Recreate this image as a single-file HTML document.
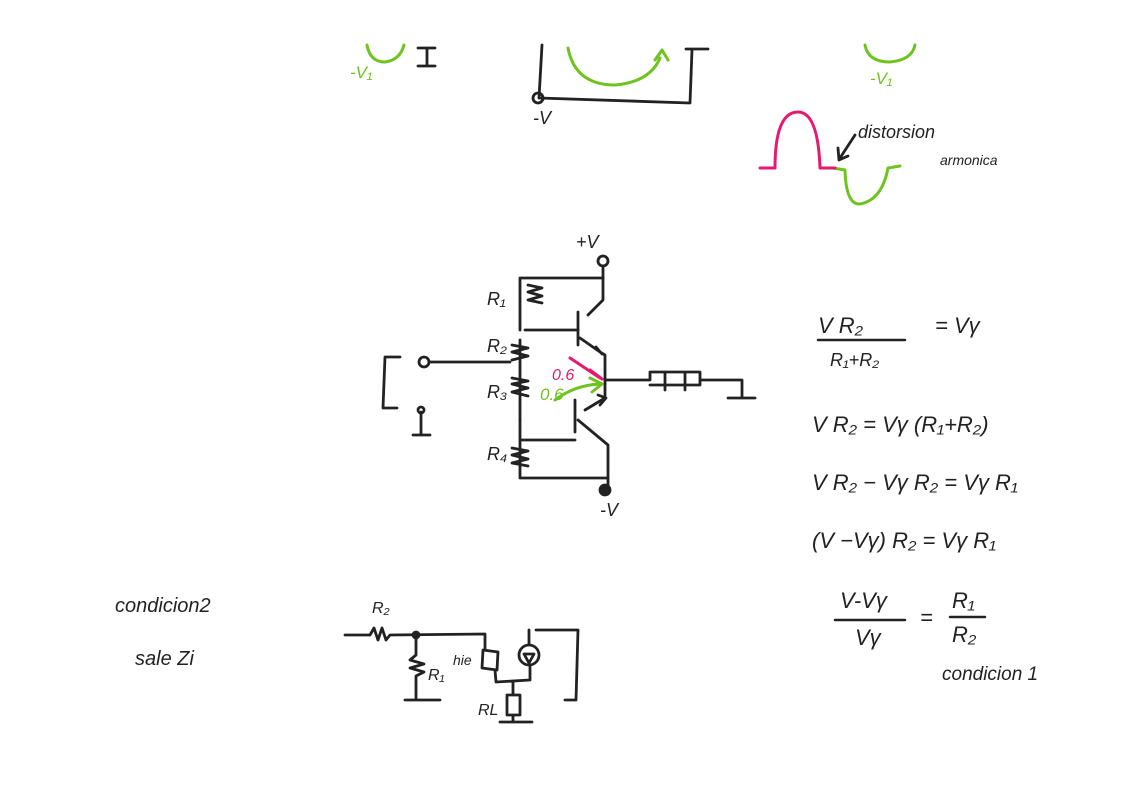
<!DOCTYPE html>
<html><head><meta charset="utf-8"><style>
html,body{margin:0;padding:0;background:#fff;width:1123px;height:793px;overflow:hidden}
svg{display:block}
text{font-family:"Liberation Sans",sans-serif;font-style:italic}
</style></head><body>
<svg width="1123" height="793" viewBox="0 0 1123 793" fill="none" stroke-linecap="round" stroke-linejoin="round">
<g stroke="#6fc31f" stroke-width="3">
<path d="M367 45 Q370 62 385 62 Q400 60 404 45"/>
<path d="M568 48 Q575 85 615 85 Q650 82 660 58 M655 60 L662 50 L668 60"/>
<path d="M865 45 Q868 62 890 62 Q912 60 915 45"/>
<path d="M833 168 L845 170 Q846 205 860 204 Q882 200 888 168 L900 166"/>
<path d="M555 400 Q575 385 600 384 M590 378 L602 384 L592 392"/>
</g>
<g fill="#6fc31f" font-size="17">
<text x="350" y="78">-V₁</text>
<text x="870" y="84">-V₁</text>
<text x="540" y="400">0.6</text>
</g>
<g stroke="#e5196e" stroke-width="3">
<path d="M760 168 L775 168 Q775 112 798 112 Q818 112 820 168 L835 168"/>
<path d="M570 358 L600 378 M590 370 L602 379"/>
</g>
<text x="552" y="380" fill="#e5196e" font-size="16">0.6</text>
<g stroke="#222" stroke-width="2.8">
<path d="M418 48 L435 48 M427 48 L427 66 M418 66 L435 66"/>
<path d="M542 45 L539 98 L690 103 L692 50 M686 49 L708 49"/>
<circle cx="538" cy="98" r="5"/>
<path d="M855 135 L840 158 M838 148 L839 160 L848 156"/>
<circle cx="603" cy="261" r="5"/>
<path d="M603 266 L603 300 L588 315 M578 312 L578 345 M580 338 L600 352 L605 355 L605 380 M596 347 L602 354"/>
<path d="M520 278 L603 278 M520 278 L520 330 M525 330 L578 330"/>
<path d="M528 285 L542 288 L528 292 L542 296 L528 300 L542 303"/>
<path d="M430 362 L510 362 M520 340 L520 420 M512 345 L528 348 L512 352 L528 356 L512 360 M512 378 L528 381 L512 384 L528 388 L512 392 L528 396"/>
<circle cx="424" cy="362" r="5"/>
<path d="M400 357 L385 357 L383 408 L397 408"/>
<circle cx="421" cy="410" r="3"/>
<path d="M421 412 L421 435 M413 435 L430 435"/>
<path d="M605 380 L650 380 L650 372 L700 372 L700 385 L650 385 M700 380 L742 380 L742 398 M728 398 L755 398 M665 372 L665 390 M685 372 L685 390"/>
<path d="M605 380 L605 398 L585 410 M575 400 L575 432 M578 420 L608 445 L608 488 M598 395 L606 398 L600 405"/>
<path d="M520 420 L520 440 L575 440 M520 440 L520 478 L608 478 M512 448 L528 451 L512 455 L528 459 L512 463 L528 466"/>
<circle cx="605" cy="490" r="5" fill="#222"/>
<path d="M345 635 L370 635 L374 628 L378 640 L382 628 L386 640 L390 635 L485 634 L485 650 M416 635 L416 655 L410 660 L424 664 L410 668 L424 672 L416 676 L416 700 M405 700 L440 700"/>
<circle cx="416" cy="635" r="3" fill="#222"/>
<path d="M483 650 L498 652 L497 670 L482 668 Z M495 670 L496 682 L530 680 L530 665 M513 682 L513 695 L507 695 L507 715 L520 715 L520 695 L513 695 M513 715 L513 722 M500 722 L532 722"/>
<circle cx="529" cy="655" r="10"/>
<path d="M529 645 L529 630 M524 654 L534 654 L529 663 Z M536 630 L578 630 L576 700 L565 700"/>
</g>
<g fill="#222" font-size="18">
<text x="533" y="124">-V</text>
<text x="858" y="138">distorsion</text>
<text x="940" y="165" font-size="14">armonica</text>
<text x="576" y="248">+V</text>
<text x="487" y="305">R₁</text>
<text x="487" y="352">R₂</text>
<text x="487" y="398">R₃</text>
<text x="487" y="460">R₄</text>
<text x="600" y="516">-V</text>
<text x="115" y="612" font-size="20">condicion2</text>
<text x="135" y="665" font-size="20">sale Zi</text>
<text x="372" y="613" font-size="16">R₂</text>
<text x="428" y="680" font-size="16">R₁</text>
<text x="453" y="665" font-size="14">hie</text>
<text x="478" y="715" font-size="16">RL</text>
<g font-size="22">
<text x="818" y="333">V R₂</text>
<text x="935" y="333">= Vγ</text>
<text x="830" y="366" font-size="18">R₁+R₂</text>
<text x="812" y="432">V R₂ = Vγ (R₁+R₂)</text>
<text x="812" y="490">V R₂ − Vγ R₂ = Vγ R₁</text>
<text x="812" y="548">(V −Vγ) R₂ = Vγ R₁</text>
<text x="840" y="608">V-Vγ</text>
<text x="920" y="625">=</text>
<text x="952" y="608">R₁</text>
<text x="855" y="645">Vγ</text>
<text x="952" y="642">R₂</text>
<text x="942" y="680" font-size="19">condicion 1</text>
</g>
</g>
<g stroke="#222" stroke-width="2.5">
<path d="M818 340 L905 340 M835 620 L905 620 M950 617 L985 617"/>
</g>
</svg>
</body></html>
